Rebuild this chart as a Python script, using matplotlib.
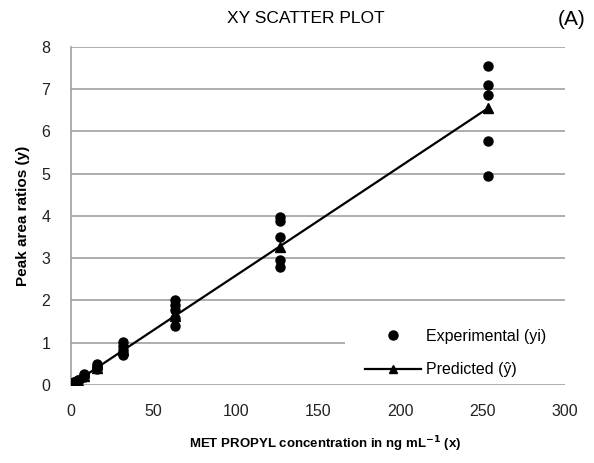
import matplotlib
matplotlib.use("Agg")
import matplotlib.pyplot as plt
from matplotlib.lines import Line2D
from matplotlib.patches import Rectangle
import numpy as np

plt.rcParams['font.family'] = ['Liberation Sans', 'DejaVu Sans']

# Concentration levels (ng/mL) and replicate peak-area ratios
conc = [1.98, 3.96, 7.92, 15.84, 31.68, 63.35, 126.7, 253.4]
exp_y = [
    [0.05, 0.06, 0.04, 0.05, 0.06],
    [0.10, 0.12, 0.09, 0.11, 0.10],
    [0.22, 0.25, 0.19, 0.21, 0.23],
    [0.50, 0.46, 0.42, 0.38, 0.40],
    [1.02, 0.92, 0.83, 0.75, 0.70],
    [2.02, 1.90, 1.78, 1.58, 1.40],
    [3.97, 3.87, 3.50, 2.95, 2.79],
    [7.54, 7.09, 6.86, 5.77, 4.94],
]
pred_y = [0.051, 0.102, 0.205, 0.41, 0.82, 1.64, 3.275, 6.55]

x_ticks = [0, 50, 100, 150, 200, 250, 300]
y_ticks = [0, 1, 2, 3, 4, 5, 6, 7, 8]

fig = plt.figure(figsize=(5.94, 4.63), dpi=100)
ax = fig.add_axes([0.1195, 0.1685, 0.8315, 0.7305])

ex_x = np.repeat(conc, [len(v) for v in exp_y])
ex_v = np.concatenate(exp_y)
ax.plot(ex_x, ex_v, 'o', color='black', markersize=6.5, zorder=3, linestyle='none')
ax.plot(conc, pred_y, '-^', color='black', linewidth=1.6, markersize=7, zorder=4)

ax.set_xlim(0, 300)
ax.set_ylim(0, 8)
ax.set_xticks(x_ticks)
ax.set_yticks(y_ticks)
ax.tick_params(length=0, labelsize=11.5, colors='#222222')
ax.tick_params(axis='y', pad=15)
ax.tick_params(axis='x', pad=14)

ax.set_axisbelow(True)
ax.grid(axis='y', color='#a0a0a0', linewidth=1.2)
for s in ['top', 'right', 'bottom']:
    ax.spines[s].set_visible(False)
ax.spines['left'].set_color('#a0a0a0')
ax.spines['left'].set_linewidth(1.2)

# white backing behind the legend
ax.add_patch(Rectangle((0.555, 0.012), 0.445, 0.215, transform=ax.transAxes,
                       facecolor='white', edgecolor='none', zorder=1))

handles = [
    Line2D([], [], marker='o', color='black', linestyle='none', markersize=6.5),
    Line2D([], [], marker='^', color='black', linewidth=1.6, markersize=6),
]
leg = ax.legend(handles, ['Experimental (yi)', 'Predicted (ŷ)'],
                loc='lower left', bbox_to_anchor=(0.567, -0.02), frameon=False,
                fontsize=11.5, handlelength=3.5, handletextpad=0.3,
                labelspacing=1.15)

fig.text(0.515, 0.96, 'XY SCATTER PLOT', ha='center', va='center', fontsize=12.5)
fig.text(0.985, 0.958, '(A)', ha='right', va='center', fontsize=15)
ax.set_ylabel('Peak area ratios (y)', fontsize=11, fontweight='bold', labelpad=8)
ax.set_xlabel('MET PROPYL concentration in ng mL$^{\\mathbf{-1}}$ (x)', fontsize=9.5,
              fontweight='bold', labelpad=7)
ax.xaxis.set_label_coords(0.515, -0.145)

fig.savefig('out.png', dpi=100)
